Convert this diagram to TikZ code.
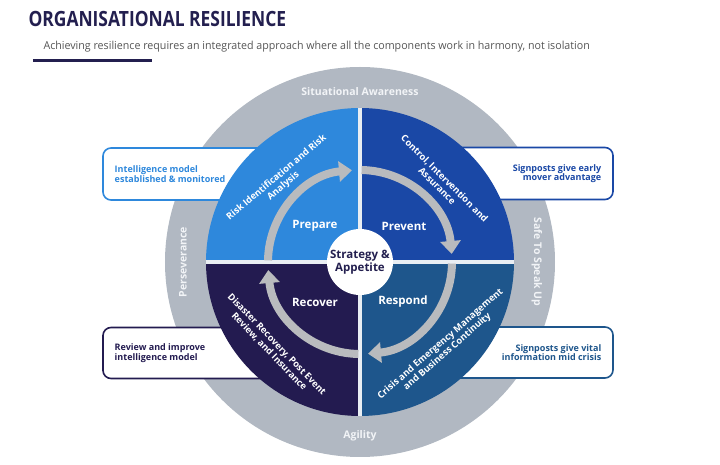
\documentclass[tikz,border=0pt]{standalone}
\usepackage{fontspec}
\setmainfont{Open Sans}
\usepackage{tikz}
\usetikzlibrary{arrows.meta}
\definecolor{PrepBlue}{HTML}{2E88DC}
\definecolor{PrevBlue}{HTML}{1A48A6}
\definecolor{RecNavy}{HTML}{231B50}
\definecolor{RespBlue}{HTML}{1E568C}
\definecolor{RingGray}{HTML}{B1B8C2}
\definecolor{ArrowGray}{HTML}{B9BBBE}
\definecolor{TitleNavy}{HTML}{231F4F}
\definecolor{SubGray}{HTML}{555555}
\definecolor{SepWhite}{HTML}{E9EEF3}
\definecolor{RingText}{HTML}{F2F4F7}

\begin{document}
\begin{tikzpicture}[x=1pt, y=1pt,
		callout/.style={draw, line width=1.6pt, rounded corners=8pt, fill=white, minimum width=170pt, minimum height=52pt},
		note/.style={font=\fontsize{9}{9.5}\selectfont\bfseries},
		ringtext/.style={text=RingText, font=\fontsize{10.5}{10.5}\selectfont\bfseries},
		phase/.style={text=white, font=\fontsize{11.5}{12}\selectfont\bfseries},
		bandtext/.style={text=white, font=\fontsize{9.3}{10.5}\selectfont\bfseries, align=center},
		flow/.style={ArrowGray, line width=8pt, -{Triangle[width=20pt, length=13pt]}}]
		\useasboundingbox (-360,-203) rectangle (360,262);
		
		\node[anchor=west, text=TitleNavy] (title) at (-335,243) {\scalebox{0.83}[1]{\fontsize{21}{21}\selectfont\bfseries ORGANISATIONAL RESILIENCE}};
		\node[anchor=west, text=SubGray] (subtitle) at (-320,215) {\scalebox{0.97}[1]{\fontsize{11}{11}\selectfont Achieving resilience requires an integrated approach where all the components work in harmony, not isolation}};
		\draw[TitleNavy, line width=3pt] (-327,201) -- (-208,201);
		
		\fill[RingGray] (0,0) circle (195);
		
		\node[callout, draw=PrepBlue] (boxTL) at (-172,88) {};
		\node[callout, draw=PrevBlue] (boxTR) at (168,88.5) {};
		\node[callout, draw=RecNavy, minimum height=51pt] (boxBL) at (-172,-91) {};
		\node[callout, draw=RespBlue, minimum height=51pt] (boxBR) at (168,-90.5) {};
		\node[note, text=PrepBlue, anchor=west, align=left] (noteTL) at ([xshift=9pt]boxTL.west) {Intelligence model\\established \& monitored};
		\node[note, text=PrevBlue, anchor=east, align=right] (noteTR) at ([xshift=-9pt]boxTR.east) {Signposts give early\\mover advantage};
		\node[note, text=RecNavy, anchor=west, align=left] (noteBL) at ([xshift=9pt]boxBL.west) {Review and improve\\intelligence model};
		\node[note, text=RespBlue, anchor=east, align=right] (noteBR) at ([xshift=-9pt]boxBR.east) {Signposts give vital\\information mid crisis};
		
		\fill[PrepBlue] (0,0) -- (180:154) arc[start angle=180, end angle=90, radius=154] -- cycle;
		\fill[PrevBlue] (0,0) -- (90:154) arc[start angle=90, end angle=0, radius=154] -- cycle;
		\fill[RespBlue] (0,0) -- (0:154) arc[start angle=0, end angle=-90, radius=154] -- cycle;
		\fill[RecNavy] (0,0) -- (-90:154) arc[start angle=-90, end angle=-180, radius=154] -- cycle;
		\draw[SepWhite, line width=4pt] (-154,0) -- (154,0);
		\draw[SepWhite, line width=4pt] (0,-154) -- (0,154);
		
		\draw[flow] (179:92) arc[start angle=179, end angle=95, radius=92];
		\draw[flow] (89:92) arc[start angle=89, end angle=5, radius=92];
		\draw[flow] (-1:92) arc[start angle=-1, end angle=-85, radius=92];
		\draw[flow] (-91:92) arc[start angle=-91, end angle=-175, radius=92];
		
		\node[circle, fill=white, minimum size=66pt, inner sep=0pt, align=center, text=TitleNavy, font=\fontsize{11.5}{13}\selectfont\bfseries] (core) at (0,0) {Strategy \&\\Appetite};
		
		\node[phase] (prepare) at (-45,36) {Prepare};
		\node[phase] (prevent) at (44,36) {Prevent};
		\node[phase] (recover) at (-45,-40) {Recover};
		\node[phase] (respond) at (43,-40) {Respond};
		
		\node[bandtext, rotate=40] (riskid) at (-80,80) {Risk Identification and Risk\\Analysis};
		\node[bandtext, rotate=-45] (control) at (81,80) {Control, Intervention and\\Assurance};
		\node[bandtext, rotate=-46] (disaster) at (-87,-86) {Disaster Recovery, Post Event\\Review, and Insurance};
		\node[bandtext, rotate=41] (crisis) at (84,-86) {Crisis and Emergency Management\\and Business Continuity};
		
		\node[ringtext] (aware) at (0,170) {Situational Awareness};
		\node[ringtext, rotate=90] (persev) at (-177,0) {Perseverance};
		\node[ringtext, rotate=-90] (speak) at (177,0) {Safe To Speak Up};
		\node[ringtext] (agile) at (0,-174) {Agility};
	\end{tikzpicture}
\end{document}
